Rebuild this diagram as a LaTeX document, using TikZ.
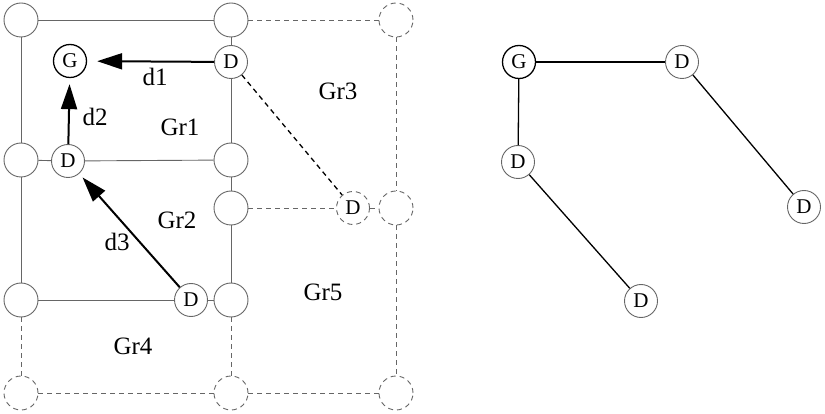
\documentclass[tikz,border=0pt]{standalone}
\usepackage{fontspec}
\setmainfont{Liberation Serif}
\usetikzlibrary{arrows.meta}
\definecolor{lg}{gray}{0.4}
\tikzset{
  vtx/.style={circle, draw=lg, line width=0.9pt, minimum size=34pt, inner sep=0pt},
  dvtx/.style={circle, draw=lg, line width=0.9pt, minimum size=33pt, inner sep=0pt, font=\fontsize{21}{21}\selectfont},
  gvtx/.style={circle, draw=black, line width=1.3pt, minimum size=33pt, inner sep=0pt, font=\fontsize{21}{21}\selectfont},
  dsh/.style={dash pattern=on 5pt off 4pt},
  gl/.style={draw=lg, line width=0.9pt},
  gld/.style={draw=lg, line width=0.9pt, dsh},
  arr/.style={draw=black, line width=2pt, -{Triangle[length=25pt, width=16pt]}},
  lbl/.style={font=\fontsize{25}{25}\selectfont},
}
\begin{document}
\begin{tikzpicture}[x=1pt,y=-1pt]
\useasboundingbox (0,0) rectangle (825,414);
% left grid nodes
\node[vtx] (A1) at (21,20) {};
\node[vtx] (A2) at (231,20) {};
\node[vtx,dsh] (A3) at (396,20) {};
\node[gvtx] (G) at (70,61) {G};
\node[dvtx] (D1) at (231,62) {D};
\node[vtx] (B1) at (21,160) {};
\node[dvtx] (DB) at (68,161) {D};
\node[vtx] (B2) at (231,160) {};
\node[vtx] (C2) at (231,208) {};
\node[dvtx,dsh] (DC) at (353,208) {D};
\node[vtx,dsh] (C3) at (396,208) {};
\node[vtx] (E1) at (21,300) {};
\node[dvtx] (DE) at (191,300) {D};
\node[vtx] (E2) at (231,300) {};
\node[vtx,dsh] (F1) at (21,393) {};
\node[vtx,dsh] (F2) at (231,393) {};
\node[vtx,dsh] (F3) at (396,393) {};
% solid gray edges
\draw[gl] (A1) -- (A2);
\draw[gl] (A1) -- (B1);
\draw[gl] (A2) -- (D1);
\draw[gl] (D1) -- (B2);
\draw[gl] (B1) -- (DB);
\draw[gl] (DB) -- (B2);
\draw[gl] (B1) -- (E1);
\draw[gl] (B2) -- (C2);
\draw[gl] (C2) -- (E2);
\draw[gl] (E1) -- (DE);
\draw[gl] (DE) -- (E2);
% dashed gray edges
\draw[gld] (A2) -- (A3);
\draw[gld] (A3) -- (C3);
\draw[gld] (C2) -- (DC);
\draw[gld] (DC) -- (C3);
\draw[gld] (C3) -- (F3);
\draw[gld] (E1) -- (F1);
\draw[gld] (E2) -- (F2);
\draw[gld] (F1) -- (F2);
\draw[gld] (F2) -- (F3);
% dashed black
\draw[black, line width=1.3pt, dsh] (D1) -- (DC);
% arrows
\draw[arr, shorten >=10pt] (D1) -- (G);
\draw[arr, shorten >=6pt] (DB) -- (G);
\draw[arr, shorten >=5pt] (DE) -- (DB);
% labels
\node[lbl] (l1) at (155,77) {d1};
\node[lbl] (l2) at (95,117) {d2};
\node[lbl] (l3) at (117,242) {d3};
\node[lbl] (g1) at (180,127) {Gr1};
\node[lbl] (g2) at (177,220) {Gr2};
\node[lbl] (g3) at (338,91) {Gr3};
\node[lbl] (g4) at (133,346) {Gr4};
\node[lbl] (g5) at (323,292) {Gr5};
% right graph
\node[gvtx] (RG) at (519,62) {G};
\node[dvtx] (R1) at (682,62) {D};
\node[dvtx] (R2) at (518,162) {D};
\node[dvtx] (R3) at (804,207) {D};
\node[dvtx] (R4) at (641,301) {D};
\draw[black, line width=1.3pt] (RG) -- (R1);
\draw[black, line width=1.3pt] (RG) -- (R2);
\draw[black, line width=1.3pt] (R1) -- (R3);
\draw[black, line width=1.3pt] (R2) -- (R4);
\end{tikzpicture}
\end{document}
